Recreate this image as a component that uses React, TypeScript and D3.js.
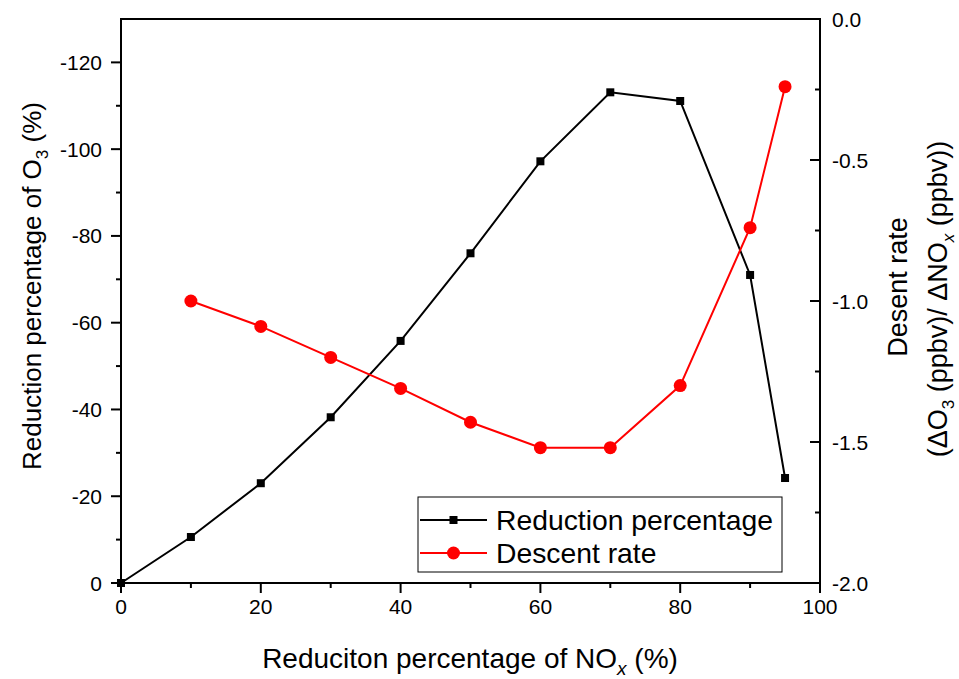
import React from "react";
import * as d3 from "d3";

const xValues = [0, 10, 20, 30, 40, 50, 60, 70, 80, 90, 95];
const reductionPct = [0, -10.6, -23.0, -38.2, -55.8, -76.0, -97.2, -113.1, -111.1, -71.0, -24.2];
const rateX = [10, 20, 30, 40, 50, 60, 70, 80, 90, 95];
const descentRate = [-1.0, -1.09, -1.2, -1.31, -1.43, -1.52, -1.52, -1.3, -0.74, -0.24];
const xTicks = [0, 20, 40, 60, 80, 100];
const xMinor = [10, 30, 50, 70, 90];
const yLeftTicks = [0, -20, -40, -60, -80, -100, -120];
const yLeftMinor = [-10, -30, -50, -70, -90, -110];
const yRightTicks = [0, -0.5, -1.0, -1.5, -2.0];
const yRightMinor = [-0.25, -0.75, -1.25, -1.75];

const W = 959, H = 679;
const M = { left: 121, right: 820, top: 19, bottom: 583 };
const FONT = "Arial, 'Liberation Sans', sans-serif";

export default function App() {
  const x = d3.scaleLinear().domain([0, 100]).range([M.left, M.right]);
  const yL = d3.scaleLinear().domain([0, -130]).range([M.bottom, M.top]);
  const yR = d3.scaleLinear().domain([-2, 0]).range([M.bottom, M.top]);

  const blackLine = d3.line<number>().x((_, i) => x(xValues[i])).y((d) => yL(d))(reductionPct) || "";
  const redLine = d3.line<number>().x((_, i) => x(rateX[i])).y((d) => yR(d))(descentRate) || "";

  const lx0 = 420, lx1 = 487, ly1 = 520, ly2 = 553;

  return (
    <svg width={W} height={H} style={{ position: "absolute", left: 0, top: 0, background: "#fff" }} fontFamily={FONT}>
      <rect x={0} y={0} width={W} height={H} fill="#fff" />
      <rect x={M.left} y={M.top} width={M.right - M.left} height={M.bottom - M.top} fill="none" stroke="#000" strokeWidth={2} />

      {xTicks.map((t) => (
        <g key={"xt" + t}>
          <line x1={x(t)} x2={x(t)} y1={M.bottom} y2={M.bottom + 10} stroke="#000" strokeWidth={2} />
          <text x={x(t)} y={M.bottom + 31} fontSize={21} textAnchor="middle">{t}</text>
        </g>
      ))}
      {xMinor.map((t) => (
        <line key={"xm" + t} x1={x(t)} x2={x(t)} y1={M.bottom} y2={M.bottom + 5} stroke="#000" strokeWidth={2} />
      ))}

      {yLeftTicks.map((t) => (
        <g key={"yl" + t}>
          <line x1={M.left - 10} x2={M.left} y1={yL(t)} y2={yL(t)} stroke="#000" strokeWidth={2} />
          <text x={M.left - 19} y={yL(t) + 7.5} fontSize={21} textAnchor="end">{t}</text>
        </g>
      ))}
      {yLeftMinor.map((t) => (
        <line key={"ylm" + t} x1={M.left - 5} x2={M.left} y1={yL(t)} y2={yL(t)} stroke="#000" strokeWidth={2} />
      ))}

      {yRightTicks.map((t) => (
        <g key={"yr" + t}>
          <line x1={M.right - 10} x2={M.right} y1={yR(t)} y2={yR(t)} stroke="#000" strokeWidth={2} />
          <text x={M.right + 12} y={yR(t) + 7.5} fontSize={21} textAnchor="start">{t.toFixed(1)}</text>
        </g>
      ))}
      {yRightMinor.map((t) => (
        <line key={"yrm" + t} x1={M.right - 5} x2={M.right} y1={yR(t)} y2={yR(t)} stroke="#000" strokeWidth={2} />
      ))}

      <path d={blackLine} fill="none" stroke="#000" strokeWidth={2} />
      {reductionPct.map((v, i) => (
        <rect key={"bm" + i} x={x(xValues[i]) - 4} y={yL(v) - 4} width={8} height={8} fill="#000" />
      ))}
      <path d={redLine} fill="none" stroke="#ff0000" strokeWidth={2} />
      {descentRate.map((v, i) => (
        <circle key={"rm" + i} cx={x(rateX[i])} cy={yR(v)} r={6.5} fill="#ff0000" />
      ))}

      <rect x={418} y={497} width={364} height={75} fill="#fff" stroke="#000" strokeWidth={1} />
      <line x1={lx0} x2={lx1} y1={ly1} y2={ly1} stroke="#000" strokeWidth={2} />
      <rect x={(lx0 + lx1) / 2 - 4} y={ly1 - 4} width={8} height={8} fill="#000" />
      <text x={496} y={ly1 + 10} fontSize={28.3}>Reduction percentage</text>
      <line x1={lx0} x2={lx1} y1={ly2} y2={ly2} stroke="#ff0000" strokeWidth={2} />
      <circle cx={(lx0 + lx1) / 2} cy={ly2} r={6.5} fill="#ff0000" />
      <text x={496} y={ly2 + 10} fontSize={28.3}>Descent rate</text>

      <text x={470} y={668} fontSize={28} textAnchor="middle">
        Reduciton percentage of NO<tspan fontSize={19} dy={7} fontStyle="italic">x</tspan>
        <tspan dy={-7}> (%)</tspan>
      </text>

      <text transform={`translate(41,286) rotate(-90)`} fontSize={26} textAnchor="middle">
        Reduction percentage of O<tspan fontSize={17} dy={7}>3</tspan>
        <tspan dy={-7}> (%)</tspan>
      </text>

      <text transform={`translate(907,287) rotate(-90)`} fontSize={27} textAnchor="middle">
        Desent rate
      </text>
      <text transform={`translate(947,299) rotate(-90)`} fontSize={27} textAnchor="middle">
        (ΔO<tspan fontSize={17} dy={7}>3</tspan>
        <tspan dy={-7}> (ppbv)/ ΔNO</tspan>
        <tspan fontSize={17} dy={7} fontStyle="italic">x</tspan>
        <tspan dy={-7}> (ppbv))</tspan>
      </text>
    </svg>
  );
}
